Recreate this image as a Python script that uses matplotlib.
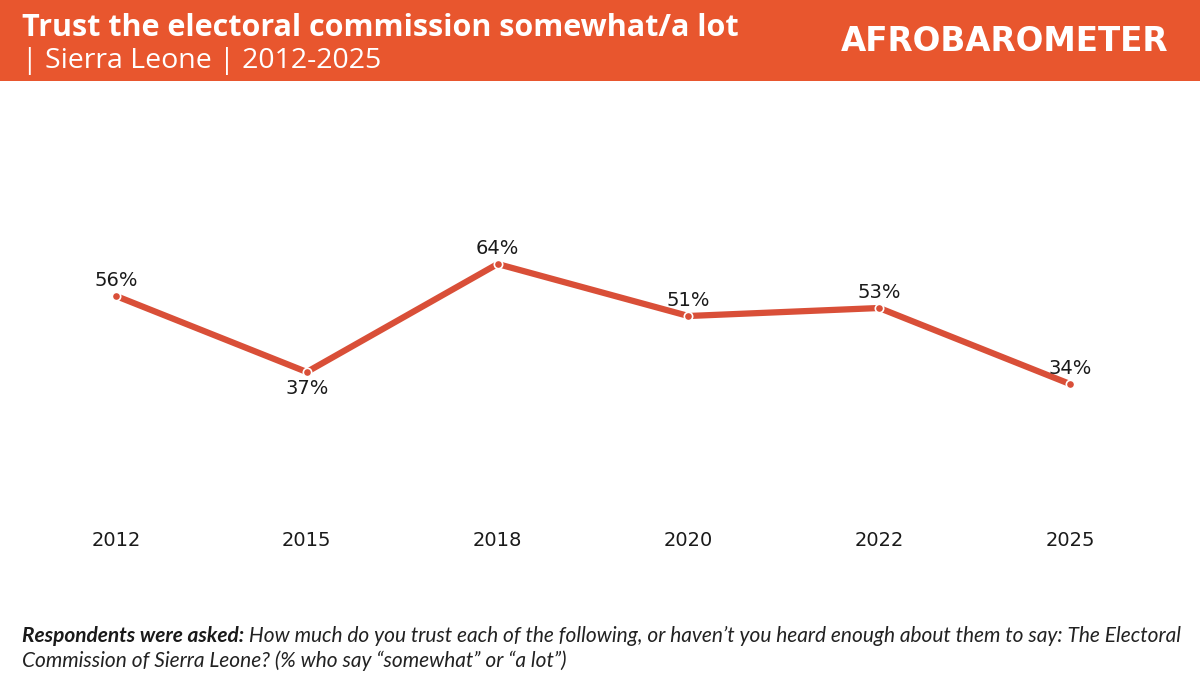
import matplotlib
matplotlib.use("Agg")
import matplotlib.pyplot as plt
from matplotlib.patches import Rectangle

# ================================
# Data
# ================================
years = ["2012", "2015", "2018", "2020", "2022", "2025"]
trust = [56, 37, 64, 51, 53, 34]
label_below = [False, True, False, False, False, False]

title = "Trust the electoral commission somewhat/a lot"
subtitle = "| Sierra Leone | 2012-2025"
note_bold = "Respondents were asked:"
note_rest = (" How much do you trust each of the following, or haven\u2019t you heard enough about them to say: The Electoral",
             "Commission of Sierra Leone? (% who say \u201csomewhat\u201d or \u201ca lot\u201d)")

ORANGE = "#E8562E"
LINE = "#D94F38"
FONT = "Open Sans"

# ================================
# Figure
# ================================
fig = plt.figure(figsize=(12, 6.75), dpi=100)
fig.patch.set_facecolor("white")

# header band
fig.patches.append(Rectangle((0, 1 - 81 / 675), 1, 81 / 675, transform=fig.transFigure,
                             facecolor=ORANGE, edgecolor="none", zorder=0))
fig.text(22 / 1200, 1 - 36 / 675, title, color="white", fontsize=22, fontweight="bold",
         family=FONT, va="baseline", ha="left")
fig.text(22 / 1200, 1 - 68 / 675, subtitle, color="white", fontsize=20.5, family=FONT,
         va="baseline", ha="left")
fig.text(1168 / 1200, 1 - 51 / 675, "AFROBAROMETER", color="white", fontsize=23.5,
         fontweight="heavy", family="DejaVu Sans", va="baseline", ha="right")

# ================================
# Line chart
# ================================
ax = fig.add_axes([20.6 / 1200, 155 / 675, 1144.8 / 1200, 400 / 675])
x = list(range(len(years)))
ax.plot(x, trust, color=LINE, linewidth=4.5, solid_capstyle="round", zorder=2)
ax.scatter(x, trust, s=36, color=LINE, edgecolors="white", linewidths=1.2, zorder=3)

for xi, v, below in zip(x, trust, label_below):
    off = -12 if below else 11
    ax.annotate(f"{v}%", (xi, v), xytext=(0, off), textcoords="offset points",
                ha="center", va="center", fontsize=14, family="DejaVu Sans", color="#1a1a1a")

ax.set_xlim(-0.5, len(years) - 0.5)
ax.set_ylim(0, 100)
ax.set_xticks(x)
ax.set_xticklabels(years, fontsize=14, family="DejaVu Sans", color="#1a1a1a")
ax.tick_params(axis="x", length=0, pad=8)
ax.set_yticks([])
for s in ax.spines.values():
    s.set_visible(False)

# ================================
# Footnote
# ================================
renderer = fig.canvas.get_renderer()
t1 = fig.text(22 / 1200, 1 - 642 / 675, note_bold, fontsize=15, fontweight="bold",
              style="italic", family="Lato", va="baseline", ha="left", color="#1a1a1a")
bb = t1.get_window_extent(renderer)
fig.text(bb.x1 / 1200, 1 - 642 / 675, note_rest[0], fontsize=15, style="italic",
         family="Lato", va="baseline", ha="left", color="#222222")
fig.text(22 / 1200, 1 - 667 / 675, note_rest[1], fontsize=15, style="italic",
         family="Lato", va="baseline", ha="left", color="#222222")

fig.savefig("out.png", dpi=100)
